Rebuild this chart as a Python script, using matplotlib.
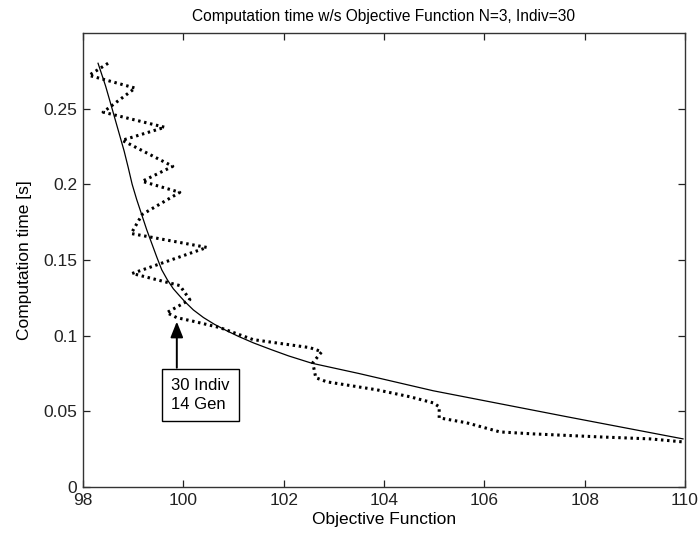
import matplotlib
matplotlib.use("Agg")
import matplotlib.pyplot as plt

# Dotted series: computation time vs objective function (evolution path)
obj_dotted = [98.50, 98.12, 99.04, 98.40, 99.63, 98.78, 99.79, 99.18, 99.93,
              99.18, 98.96, 100.47, 98.98, 99.93, 100.13, 99.67, 99.87, 100.20,
              100.73, 101.39, 102.52, 102.76, 102.58, 102.64, 102.86, 103.86,
              104.52, 104.98, 105.10, 105.10, 105.65, 106.31, 106.97, 108.30,
              109.30, 109.96]
time_dotted = [0.280, 0.272, 0.2636, 0.2477, 0.2377, 0.2291, 0.2119, 0.2020, 0.1947,
               0.1801, 0.1675, 0.1583, 0.1411, 0.1331, 0.1238, 0.1152, 0.1119, 0.1095,
               0.1053, 0.0974, 0.0921, 0.0894, 0.0821, 0.0722, 0.0695, 0.0642,
               0.0596, 0.0556, 0.0530, 0.0457, 0.0424, 0.0364, 0.0351, 0.0331,
               0.0318, 0.0298]

# Solid series: fitted trend
obj_solid = [98.30, 98.45, 98.58, 98.70, 98.82, 98.90, 98.98, 99.07, 99.17, 99.27,
             99.37, 99.47, 99.57, 99.68, 99.80, 99.92, 100.03, 100.20, 100.40,
             100.62, 100.85, 101.10, 101.40, 101.75, 102.10, 102.56, 103.50,
             104.98, 107.65, 109.96]
time_solid = [0.280, 0.265, 0.250, 0.236, 0.222, 0.2113, 0.200, 0.190, 0.180, 0.170,
              0.161, 0.152, 0.1435, 0.1370, 0.1310, 0.1265, 0.1225, 0.1170, 0.1120,
              0.1075, 0.1035, 0.0995, 0.0952, 0.0908, 0.0866, 0.0818, 0.0750,
              0.0636, 0.0464, 0.0318]

x_ticks = [98, 100, 102, 104, 106, 108, 110]
y_ticks = [0, 0.05, 0.1, 0.15, 0.2, 0.25]
y_tick_labels = ["0", "0.05", "0.1", "0.15", "0.2", "0.25"]

annot_text = "30 Indiv\n14 Gen"
arrow_tip = (99.87, 0.1093)
arrow_tail = (99.87, 0.0788)
box_center = (100.34, 0.0609)

plt.rcParams['font.family'] = ['Liberation Sans', 'DejaVu Sans']

fig = plt.figure(figsize=(6.99, 5.40), dpi=100)
ax = fig.add_axes([83/699, 1-487/540, (685-83)/699, (487-33)/540])

ax.plot(obj_dotted, time_dotted, color='black', linewidth=2.2,
        linestyle=(0, (0.8, 1.2)), dash_capstyle='butt')
ax.plot(obj_solid, time_solid, color='black', linewidth=0.9)

ax.set_xlim(98, 110)
ax.set_ylim(0, 0.3)
ax.set_xticks(x_ticks)
ax.set_xticklabels([str(t) for t in x_ticks])
ax.set_yticks(y_ticks)
ax.set_yticklabels(y_tick_labels)

ax.tick_params(direction='in', length=5, width=0.9, top=True, right=True,
               labelsize=12.5, colors='#222222')
ax.tick_params(axis='x', pad=4)
ax.tick_params(axis='y', pad=4)
for s in ax.spines.values():
    s.set_linewidth(1.0)
    s.set_color('#333333')

ax.set_title("Computation time w/s Objective Function N=3, Indiv=30",
             fontsize=11.2, pad=9)
ax.set_xlabel("Objective Function", fontsize=12.5, labelpad=3)
ax.set_ylabel("Computation time [s]", fontsize=12.5, labelpad=8)

ax.annotate("", xy=arrow_tip, xytext=arrow_tail, textcoords='data',
            arrowprops=dict(arrowstyle='-|>,head_length=0.95,head_width=0.38',
                            color='black', lw=1.4, shrinkA=0, shrinkB=0))
ax.text(box_center[0], box_center[1], annot_text, fontsize=12,
        ha='center', va='center', multialignment='left', linespacing=1.3,
        bbox=dict(boxstyle='square,pad=0.55', fc='white', ec='black', lw=1.0))

fig.savefig("out.png", dpi=100)
